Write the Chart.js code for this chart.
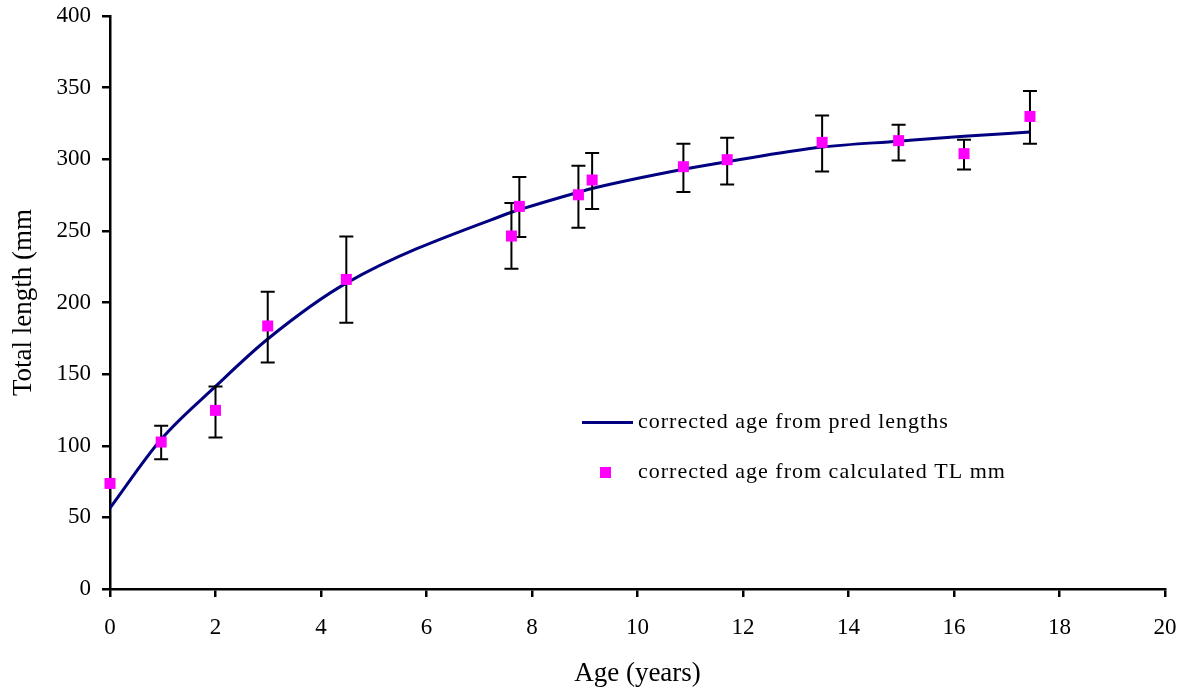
<!DOCTYPE html>
<html>
<head>
<meta charset="utf-8">
<script src="https://cdn.jsdelivr.net/npm/chart.js@4.4.0/dist/chart.umd.min.js"></script>
<style>
    html, body { margin: 0; padding: 0; background: #fff; }
    #wrap { width: 1185px; height: 694px; }
</style>
</head>
<body>
<div id="wrap"><canvas id="growthChart" width="1185" height="694"></canvas></div>
<script>
// Ages (years) of each sample
const ages = [0, 0.97, 2.0, 2.99, 4.48, 7.61, 7.76, 8.88, 9.14, 10.87, 11.70, 13.50, 14.95, 16.19, 17.44];
// Calculated total length (mm) and its error bar ends
const calcTL = [73.7, 102.6, 124.7, 183.6, 216.1, 246.4, 267.1, 275.2, 285.5, 294.8, 299.7, 311.8, 313.0, 303.9, 329.9];
const tlUpper = [null, 114, 141.4, 207.5, 246, 269.4, 287.6, 295.5, 304.4, 310.9, 315, 330.6, 324.1, 313.6, 347.6];
const tlLower = [null, 90.5, 105.8, 158.2, 185.9, 223.6, 245.7, 252.2, 265.3, 277.1, 282.4, 291.5, 299.2, 292.9, 310.8];
// Predicted lengths (mm) along the curve
const predTL = [56.5, 104.5, 141.4, 174.5, 213.5, 263, 264.8, 277, 279.6, 293, 298.3, 308.5, 312.6, 316.0, 319.0];

const xTicks = [0, 2, 4, 6, 8, 10, 12, 14, 16, 18, 20];
const yTicks = [0, 50, 100, 150, 200, 250, 300, 350, 400];

const serif = '"Liberation Serif", "DejaVu Serif", serif';

// Error bars drawn through the chart scales
const errorBars = {
    id: 'errorBars',
    beforeDraw(chart) {
        chart.ctx.letterSpacing = '0px';
    },
    afterDatasetsDraw(chart) {
        const ctx = chart.ctx;
        const xs = chart.scales.x;
        const ys = chart.scales.y;
        ctx.save();
        ctx.strokeStyle = '#000';
        ctx.lineWidth = 2;
        for (let i = 0; i < ages.length; i++) {
            if (tlUpper[i] === null) continue;
            const x = xs.getPixelForValue(ages[i]);
            const yt = ys.getPixelForValue(tlUpper[i]);
            const yb = ys.getPixelForValue(tlLower[i]);
            ctx.beginPath();
            ctx.moveTo(x, yt); ctx.lineTo(x, yb);
            ctx.moveTo(x - 7, yt); ctx.lineTo(x + 7, yt);
            ctx.moveTo(x - 7, yb); ctx.lineTo(x + 7, yb);
            ctx.stroke();
        }
        // squares go back on top of the bars
        const meta = chart.getDatasetMeta(1);
        ctx.fillStyle = '#ff00ff';
        meta.data.forEach(p => {
            ctx.fillRect(p.x - 5.5, p.y - 5.5, 11, 11);
        });
        ctx.restore();
    }
};

// Legend inside the plot area
const innerLegend = {
    id: 'innerLegend',
    afterDraw(chart) {
        const ctx = chart.ctx;
        ctx.save();
        ctx.font = '22px ' + serif;
        ctx.letterSpacing = '1px';
        ctx.textBaseline = 'alphabetic';
        ctx.strokeStyle = '#000080';
        ctx.lineWidth = 3;
        ctx.beginPath();
        ctx.moveTo(582, 422.5); ctx.lineTo(633, 422.5);
        ctx.stroke();
        ctx.fillStyle = '#000';
        ctx.fillText('corrected age from pred lengths', 638, 428);
        ctx.fillStyle = '#ff00ff';
        ctx.fillRect(600, 467, 11, 11);
        ctx.fillStyle = '#000';
        ctx.fillText('corrected age from calculated TL mm', 638, 478);
        ctx.letterSpacing = '0px';
        ctx.restore();
    }
};

const ctx = document.getElementById('growthChart').getContext('2d');
const growthChart = new Chart(ctx, {
    type: 'scatter',
    data: {
        datasets: [{
            label: 'corrected age from pred lengths',
            data: ages.map((a, i) => ({ x: a, y: predTL[i] })),
            showLine: true,
            borderColor: '#000080',
            borderWidth: 3,
            pointRadius: 0,
            cubicInterpolationMode: 'monotone',
            order: 2
        }, {
            label: 'corrected age from calculated TL mm',
            data: ages.map((a, i) => ({ x: a, y: calcTL[i] })),
            backgroundColor: '#ff00ff',
            borderColor: '#ff00ff',
            pointStyle: 'rect',
            pointRadius: 5.5,
            order: 1
        }]
    },
    options: {
        responsive: false,
        animation: false,
        devicePixelRatio: 1,
        layout: { padding: { top: 16, right: 20, left: 4, bottom: 0 } },
        plugins: {
            legend: { display: false },
            tooltip: { enabled: false }
        },
        scales: {
            x: {
                type: 'linear',
                min: 0,
                max: 20,
                afterBuildTicks: s => { s.ticks = xTicks.map(v => ({ value: v })); },
                afterFit: s => { s.height = 694 - 589; s.paddingLeft = 0; s.paddingRight = 0; },
                border: { display: true, color: '#000', width: 2.5 },
                grid: { display: true, drawOnChartArea: false, drawTicks: true, tickLength: 8, color: '#000', lineWidth: 2.5 },
                ticks: { color: '#000', font: { family: serif, size: 23 }, padding: 17, maxRotation: 0 },
                title: { display: true, text: 'Age (years)', color: '#000', font: { family: serif, size: 27 } }
            },
            y: {
                min: 0,
                max: 400,
                afterBuildTicks: s => { s.ticks = yTicks.map(v => ({ value: v })); },
                afterFit: s => { s.width = 106; s.paddingTop = 0; s.paddingBottom = 0; },
                border: { display: true, color: '#000', width: 2.5 },
                grid: { display: true, drawOnChartArea: false, drawTicks: true, tickLength: 8, color: '#000', lineWidth: 2.5 },
                ticks: { color: '#000', font: { family: serif, size: 23 }, padding: 11 },
                title: { display: true, text: 'Total length (mm', color: '#000', font: { family: serif, size: 27 } }
            }
        }
    },
    plugins: [errorBars, innerLegend]
});
</script>
</body>
</html>
